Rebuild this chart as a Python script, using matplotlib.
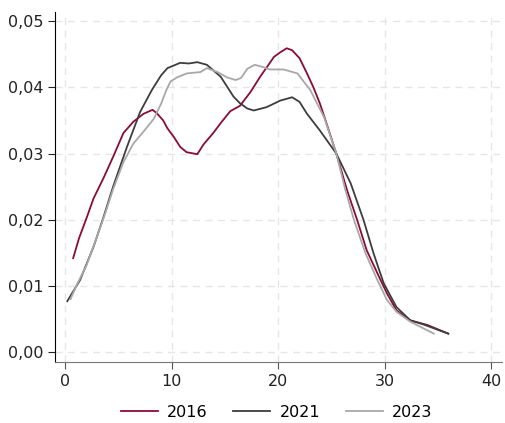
import matplotlib
matplotlib.use("Agg")
import matplotlib.pyplot as plt
from matplotlib.ticker import FuncFormatter

x2016 = [0.75, 1.3, 2.04, 2.66, 3.6, 4.5, 5.47, 6.4, 7.35, 8.2, 8.6, 9.2, 9.6, 10.2, 10.8, 11.4, 12.4, 13.0, 13.9, 14.6, 15.5, 16.4, 17.4, 18.3, 19.0, 19.6, 20.2, 20.8, 21.3, 22.0, 22.7, 23.3, 23.9, 24.4, 25.45, 26.45, 27.4, 28.3, 29.6, 30.2, 31.1, 32.4, 34.0, 35.96]
y2016 = [0.0142, 0.0172, 0.0204, 0.0232, 0.0263, 0.0295, 0.0331, 0.0348, 0.0360, 0.0366, 0.0361, 0.0350, 0.0338, 0.0325, 0.0310, 0.0302, 0.0299, 0.0314, 0.0331, 0.0346, 0.0364, 0.0372, 0.0393, 0.0416, 0.0432, 0.0446, 0.0453, 0.0459, 0.0456, 0.0444, 0.0421, 0.0400, 0.0376, 0.0352, 0.0300, 0.0245, 0.0200, 0.0154, 0.0109, 0.0089, 0.0063, 0.0048, 0.0041, 0.0028]

x2021 = [0.2, 1.4, 2.66, 3.6, 4.5, 5.8, 7.04, 8.14, 9.0, 9.6, 10.2, 10.8, 11.6, 12.4, 13.3, 14.6, 15.8, 16.4, 17.1, 17.7, 18.9, 20.2, 21.3, 22.0, 22.7, 23.9, 25.45, 26.8, 28.0, 28.95, 29.9, 31.1, 32.4, 33.6, 35.96]
y2021 = [0.0077, 0.0109, 0.0159, 0.0204, 0.0250, 0.0310, 0.0363, 0.0396, 0.0418, 0.0429, 0.0433, 0.0437, 0.0436, 0.0438, 0.0434, 0.0416, 0.0386, 0.0376, 0.0368, 0.0365, 0.0370, 0.0380, 0.0385, 0.0378, 0.0360, 0.0335, 0.0300, 0.0255, 0.0200, 0.0149, 0.0104, 0.0068, 0.0048, 0.0042, 0.0028]

x2023 = [0.5, 1.1, 2.0, 2.66, 3.6, 4.5, 5.47, 6.4, 7.35, 8.3, 9.0, 9.5, 9.9, 10.5, 11.4, 12.7, 13.3, 14.3, 15.2, 16.0, 16.5, 17.1, 17.8, 18.5, 19.2, 20.5, 21.8, 23.0, 24.3, 25.45, 26.3, 27.1, 28.2, 29.3, 30.2, 31.1, 32.4, 34.6]
y2023 = [0.0080, 0.0102, 0.0131, 0.0160, 0.0202, 0.0246, 0.0287, 0.0315, 0.0333, 0.0352, 0.0375, 0.0396, 0.0409, 0.0415, 0.0421, 0.0423, 0.0429, 0.0423, 0.0415, 0.0411, 0.0414, 0.0428, 0.0434, 0.0431, 0.0427, 0.0427, 0.0421, 0.0396, 0.0355, 0.0300, 0.0245, 0.0200, 0.0149, 0.0109, 0.0079, 0.0061, 0.0046, 0.0028]

xticks = [0, 10, 20, 30, 40]
yticks = [0.00, 0.01, 0.02, 0.03, 0.04, 0.05]

plt.rcParams['font.family'] = ['DejaVu Sans']
fig = plt.figure(figsize=(5.05, 4.23), dpi=100)
ax = fig.add_axes([0.109, 0.144, 0.885, 0.828])

ax.plot(x2016, y2016, color='#8b0a3a', lw=1.3, label='2016')
ax.plot(x2021, y2021, color='#3d3d3d', lw=1.3, label='2021')
ax.plot(x2023, y2023, color='#a8a8a8', lw=1.3, label='2023')

ax.set_xlim(-0.95, 41)
ax.set_ylim(-0.0015, 0.0514)
ax.set_xticks(xticks)
ax.set_yticks(yticks)
ax.yaxis.set_major_formatter(FuncFormatter(lambda v, p: f"{v:.2f}".replace('.', ',')))
ax.xaxis.set_major_formatter(FuncFormatter(lambda v, p: f"{int(v)}"))
ax.grid(True, color='#e6e6e6', linestyle=(0, (5, 4)), lw=1)
ax.set_axisbelow(True)
for s in ['top', 'right']:
    ax.spines[s].set_visible(False)
ax.spines['left'].set_color('black')
ax.spines['bottom'].set_color('#777777')
ax.tick_params(axis='both', labelsize=11.5, colors='#222222', length=5, direction='out')
ax.tick_params(axis='x', colors='#555555', labelcolor='#222222')

fig.legend(loc='center', bbox_to_anchor=(0.548, 0.026), ncol=3, frameon=False,
           fontsize=11.5, handlelength=2.3, handletextpad=0.6, columnspacing=1.6)

fig.savefig('out.png', dpi=100)
